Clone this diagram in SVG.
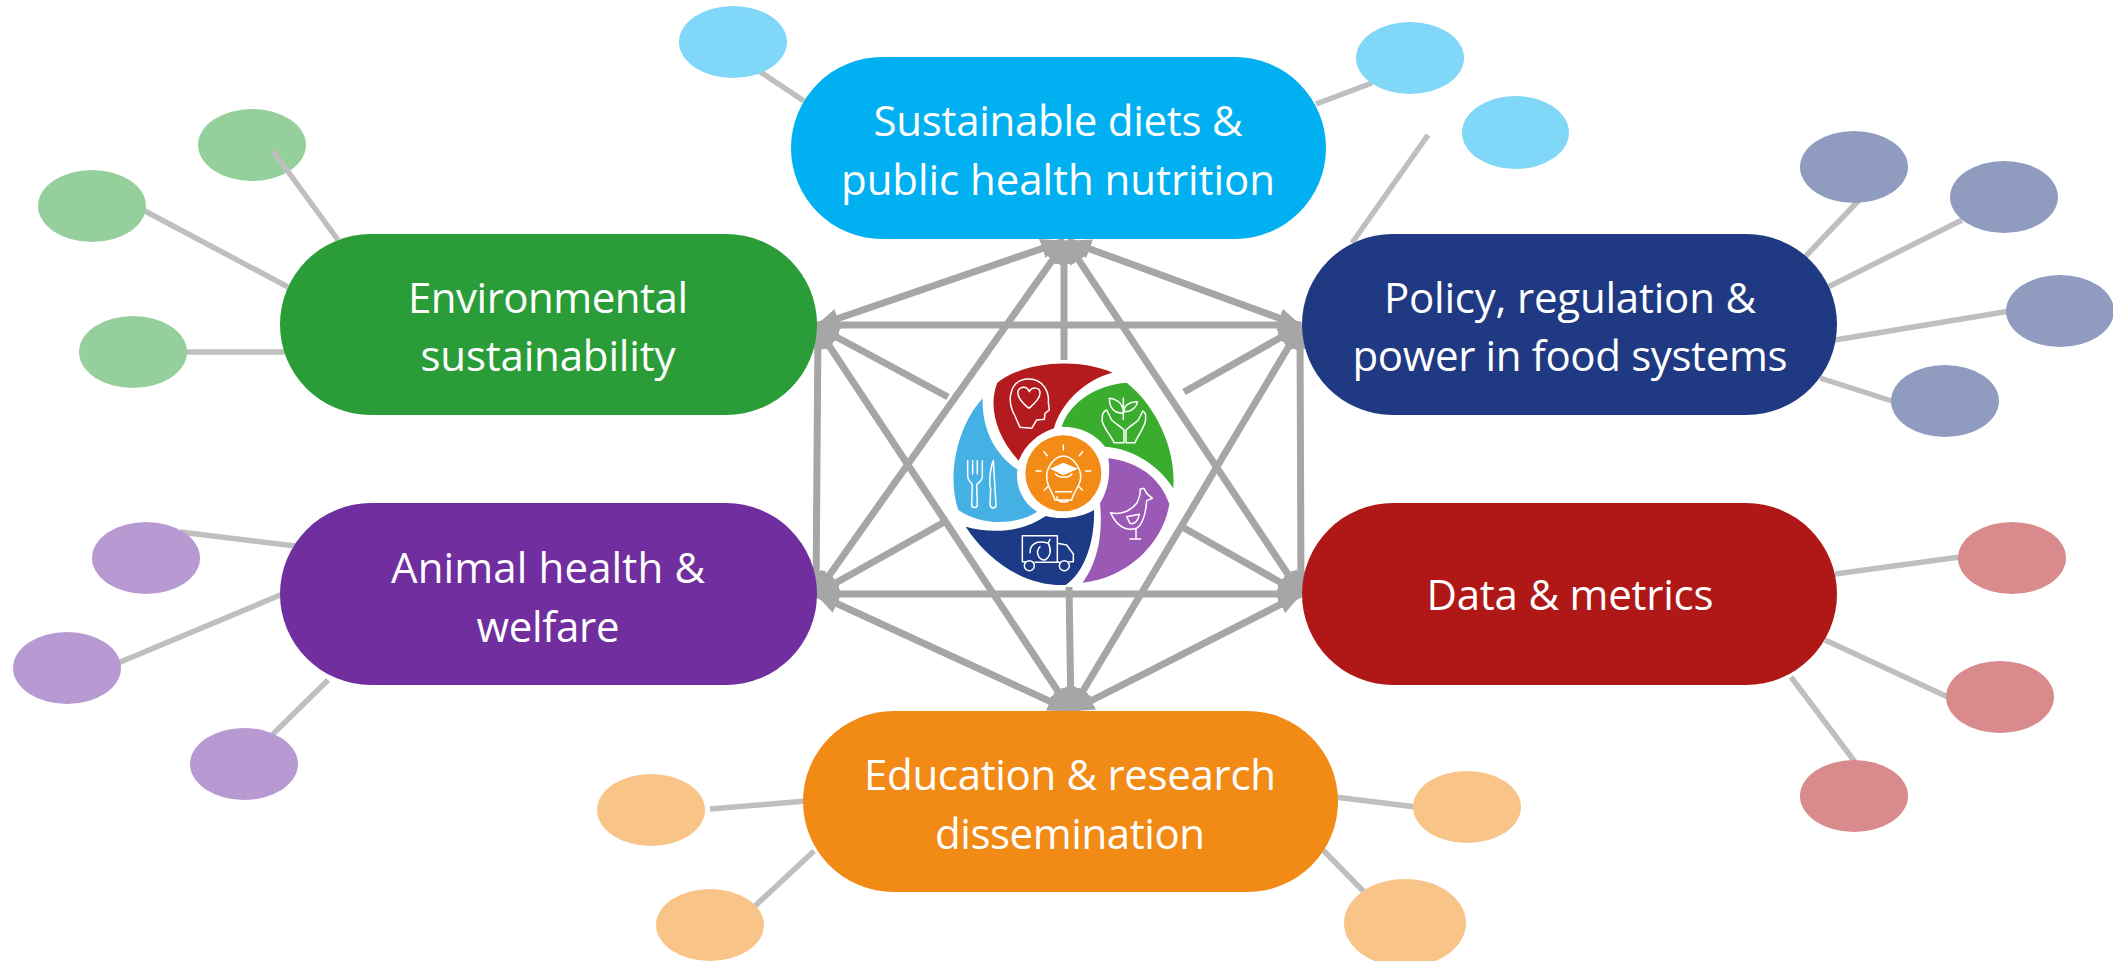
<svg xmlns="http://www.w3.org/2000/svg" width="2113" height="961" viewBox="0 0 2113 961">
<style>
.s{stroke:#bfbfbf;stroke-width:5.5;fill:none}
.c{stroke:#a6a6a6;stroke-width:7;fill:none;marker-start:url(#a);marker-end:url(#a)}
.e{stroke:#a6a6a6;stroke-width:7;fill:none;marker-end:url(#a)}
.t{font-family:"Open Sans",sans-serif;font-size:42px;fill:#fff;text-anchor:middle}
.i{fill:none;stroke:#fff;stroke-width:4.5;stroke-linejoin:round;stroke-linecap:round}
</style>
<defs>
<marker id="a" markerUnits="userSpaceOnUse" markerWidth="24" markerHeight="24" refX="23" refY="12" orient="auto-start-reverse" viewBox="0 0 24 24"><path d="M0,2 L24,12 L0,22 Z" fill="#a6a6a6"/></marker>
</defs>
<rect width="2113" height="961" fill="#fff"/>
<g id="connectors">
<path class="s" d="M759,71 L804,101"/><path class="s" d="M1372,83 L1316,104"/><path class="s" d="M1428,135 L1352,243"/>
<path class="s" d="M143,210 L288,287"/><path class="s" d="M186,352 L285,352"/>
<path class="s" d="M1804,258 L1862,197"/><path class="s" d="M1828,287 L1962,220"/><path class="s" d="M1835,340 L2010,311"/><path class="s" d="M1820,378 L1895,402"/>
<path class="s" d="M1835,574 L1960,557"/><path class="s" d="M1825,640 L1950,698"/><path class="s" d="M1791,677 L1855,762"/>
<path class="s" d="M1335,797 L1416,807"/><path class="s" d="M1322,849 L1372,900"/><path class="s" d="M710,809 L806,801"/><path class="s" d="M755,906 L814,851"/>
<path class="s" d="M180,532 L295,546"/><path class="s" d="M118,663 L285,593"/><path class="s" d="M270,737 L328,680"/>
<path class="c" d="M816,326 L1064,241"/><path class="c" d="M1068,241 L1301,326"/>
<path class="c" d="M816,325 L1301,325"/><path class="c" d="M816,594 L1301,594"/>
<path class="c" d="M818,326 L816,594"/><path class="c" d="M1300,326 L1301,594"/>
<path class="c" d="M1066,241 L816,594"/><path class="c" d="M1066,241 L1301,594"/>
<path class="c" d="M816,326 L1071,711"/><path class="c" d="M1301,326 L1071,711"/>
<path class="c" d="M816,594 L1071,711"/><path class="c" d="M1301,594 L1071,711"/>
<path class="e" d="M1064,360 L1064,241"/><path class="e" d="M1069,587 L1071,711"/>
<path class="e" d="M948,397 L816,326"/><path class="e" d="M1184,392 L1301,326"/>
<path class="e" d="M948,520 L816,594"/><path class="e" d="M1184,528 L1301,594"/>
</g>
<g id="node-diets"><rect x="791" y="57" width="535" height="182" rx="91" fill="#00b0f0"/>
<text class="t" x="1058" y="136" textLength="369">Sustainable diets &amp;</text><text class="t" x="1058" y="195" textLength="434">public health nutrition</text>
<ellipse cx="733" cy="42" rx="54" ry="36" fill="#80d7f7"/><ellipse cx="1410" cy="58" rx="54" ry="36" fill="#80d7f7"/><ellipse cx="1515.500" cy="132.500" rx="53.500" ry="36.500" fill="#80d7f7"/></g>
<g id="node-env"><rect x="280" y="234" width="537" height="181" rx="90.500" fill="#2a9d39"/>
<text class="t" x="548" y="313" textLength="280">Environmental</text><text class="t" x="548" y="371" textLength="255">sustainability</text>
<ellipse cx="252" cy="145" rx="54" ry="36" fill="#95d09c"/><ellipse cx="92" cy="206" rx="54" ry="36" fill="#95d09c"/><ellipse cx="133" cy="352" rx="54" ry="36" fill="#95d09c"/>
<path class="s" d="M273,151 L338,240"/></g>
<g id="node-policy"><rect x="1302" y="234" width="535" height="181" rx="90.500" fill="#1f3a82"/>
<text class="t" x="1570" y="313" textLength="372">Policy, regulation &amp;</text><text class="t" x="1570" y="371" textLength="435">power in food systems</text>
<ellipse cx="1854" cy="167" rx="54" ry="36" fill="#8f9cc0"/><ellipse cx="2004" cy="197" rx="54" ry="36" fill="#8f9cc0"/><ellipse cx="2060" cy="311" rx="54" ry="36" fill="#8f9cc0"/><ellipse cx="1945" cy="401" rx="54" ry="36" fill="#8f9cc0"/></g>
<g id="node-animal"><rect x="280" y="503" width="537" height="182" rx="91" fill="#702e9e"/>
<text class="t" x="548" y="583" textLength="314">Animal health &amp;</text><text class="t" x="548" y="642" textLength="143">welfare</text>
<ellipse cx="146" cy="558" rx="54" ry="36" fill="#b89ad2"/><ellipse cx="67" cy="668" rx="54" ry="36" fill="#b89ad2"/><ellipse cx="244" cy="764" rx="54" ry="36" fill="#b89ad2"/></g>
<g id="node-data"><rect x="1302" y="503" width="535" height="182" rx="91" fill="#b01818"/>
<text class="t" x="1570" y="610" textLength="287">Data &amp; metrics</text>
<ellipse cx="2012" cy="558" rx="54" ry="36" fill="#d88a8c"/><ellipse cx="2000" cy="697" rx="54" ry="36" fill="#d88a8c"/><ellipse cx="1854" cy="796" rx="54" ry="36" fill="#d88a8c"/></g>
<g id="node-education"><rect x="803" y="711" width="535" height="181" rx="90.500" fill="#f28a16"/>
<text class="t" x="1070" y="790" textLength="412">Education &amp; research</text><text class="t" x="1070" y="849" textLength="270">dissemination</text>
<ellipse cx="1467" cy="807" rx="54" ry="36" fill="#f9c488"/><ellipse cx="1405" cy="923" rx="61" ry="44" fill="#f9c488"/><ellipse cx="651" cy="810" rx="54" ry="36" fill="#f9c488"/><ellipse cx="710" cy="925" rx="54" ry="36" fill="#f9c488"/></g>
<g id="logo" transform="translate(920,330) scale(0.33333)">
<path fill="#b31b1f" d="M578,128 C480,85 320,90 232,158 C205,225 225,315 296,392 C315,345 355,310 402,295 C420,225 490,150 578,128Z"/>
<path fill="#3aad2f" d="M620,158 C700,220 770,350 760,475 C720,410 640,355 555,350 C525,310 480,290 425,290 C450,215 530,165 620,158Z"/>
<path fill="#9b59b6" d="M565,385 C650,395 720,440 748,522 C730,640 620,745 488,758 C530,700 550,620 540,520 C565,480 572,430 565,385Z"/>
<path fill="#1c3a86" d="M137,590 C210,700 320,770 437,765 C490,730 525,640 522,540 C480,565 420,570 378,558 C300,610 210,610 137,590Z"/>
<path fill="#45b0e3" d="M188,205 C110,290 80,440 115,540 C190,590 290,585 352,545 C310,520 285,470 292,418 C220,370 185,290 188,205Z"/>
<circle cx="430" cy="430" r="114" fill="#f28c16"/>
<path class="i" d="M300,292 L285,258 C258,210 270,148 325,147 C372,146 388,190 385,218 L388,240 L375,250 L373,268 L350,270 L335,295Z"/>
<path class="i" d="M327,235 C292,208 282,178 308,172 C318,170 325,178 328,185 C335,170 362,170 360,190 C360,205 345,220 327,235Z"/>
<path class="i" d="M610,205 L610,268 M610,250 C580,250 568,230 568,205 C595,208 610,225 610,250Z M612,245 C640,245 652,225 652,215 C630,215 612,225 612,245Z"/>
<path class="i" d="M612,338 L612,300 C595,285 585,280 575,270 L560,240 C550,245 545,250 547,275 C555,300 575,320 582,338Z M618,338 L618,300 C635,285 645,280 655,270 L668,243 C678,248 678,255 676,275 C668,300 652,320 645,338Z"/>
<path class="i" d="M143,392 L143,440 C145,455 155,458 157,465 L155,525 C155,535 172,535 172,525 L170,465 C175,455 187,455 187,440 L187,392 M158,392 L158,432 M172,392 L172,432"/>
<path class="i" d="M220,392 C208,420 208,470 212,475 L210,525 C212,537 228,537 228,525Z"/>
<path class="i" d="M318,695 L307,695 L307,617 L412,617 L412,640 L440,645 L460,672 L460,695 L448,695 M345,697 L418,697 M412,640 L412,695"/>
<circle class="i" cx="328" cy="707" r="15"/><circle class="i" cx="433" cy="707" r="15"/>
<path class="i" d="M330,668 C330,640 352,630 385,640 C395,660 392,680 375,690 C355,690 345,665 360,650 M385,640 L390,628"/>
<path class="i" d="M405,510 C395,480 380,470 380,440 C380,410 405,378 430,378 C455,378 482,410 482,440 C482,470 462,480 455,510Z M407,485 L455,485 M410,510 L412,500 M415,510 C420,518 442,518 447,510"/>
<path d="M430,398 L474,416 L430,436 L390,416Z" fill="#fff"/><path class="i" d="M406,432 C418,445 445,445 456,432"/>
<path class="i" d="M430,345 L430,360 M372,365 L382,377 M488,365 L478,377 M348,423 L363,423 M497,423 L512,423 M373,480 L383,470 M487,480 L477,470"/>
<path class="i" d="M572,548 C600,555 630,545 650,520 C660,500 662,490 660,478 L672,475 L680,490 L697,505 L680,512 C678,540 672,580 650,595 C620,605 590,590 572,548Z M620,560 L658,553 C655,570 645,585 630,580Z M648,597 L648,625 M630,627 L662,627"/>
</g>
</svg>
